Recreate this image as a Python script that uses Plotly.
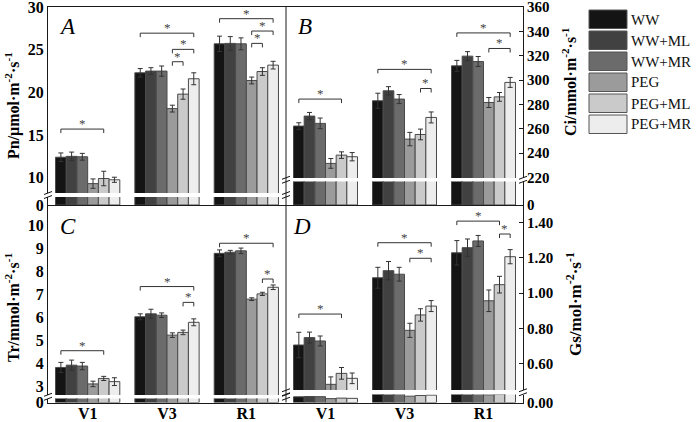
import plotly.graph_objects as go

W, H = 700, 422

stages = ["V1", "V3", "R1"]
treatments = ["WW", "WW+ML", "WW+MR", "PEG", "PEG+ML", "PEG+MR"]
colors = ["#141414", "#414141", "#6b6b6b", "#9b9b9b", "#cacaca", "#ededed"]

# Pn (umol m-2 s-1): rows = treatments, cols = V1, V3, R1
pn_mean = [[12.4, 22.3, 25.7], [12.5, 22.5, 25.75], [12.45, 22.5, 25.7],
           [9.3, 18.1, 21.4], [9.9, 19.8, 22.45], [9.75, 21.6, 23.2]]
pn_err = [[0.5, 0.5, 0.9], [0.5, 0.4, 0.8], [0.4, 0.6, 0.7],
          [0.55, 0.4, 0.4], [0.85, 0.6, 0.45], [0.3, 0.7, 0.45]]
# Ci (mmol m-2 s-1)
ci_mean = [[262.2, 283.0, 311.7], [270.4, 291.2, 319.7], [264.4, 284.4, 315.3],
           [231.5, 251.5, 281.6], [238.3, 255.3, 286.2], [237.0, 269.3, 298.1]]
ci_err = [[2.7, 6.2, 4.5], [3.0, 3.4, 3.7], [4.4, 3.7, 4.1],
          [4.0, 5.5, 4.1], [2.7, 4.4, 3.6], [3.4, 4.5, 4.1]]
# Tr (mmol m-2 s-1)
tr_mean = [[3.81, 6.02, 8.79], [3.91, 6.15, 8.84], [3.87, 6.09, 8.9],
           [3.09, 5.22, 6.79], [3.33, 5.34, 7.02], [3.19, 5.78, 7.31]]
tr_err = [[0.22, 0.13, 0.15], [0.22, 0.2, 0.08], [0.16, 0.1, 0.12],
          [0.12, 0.1, 0.06], [0.09, 0.1, 0.07], [0.17, 0.15, 0.1]]
# Gs (mol m-2 s-1)
gs_mean = [[0.707, 1.087, 1.228], [0.749, 1.127, 1.257], [0.730, 1.107, 1.295],
           [0.485, 0.79, 0.957], [0.547, 0.877, 1.048], [0.519, 0.927, 1.206]]
gs_err = [[0.072, 0.059, 0.069], [0.031, 0.052, 0.049], [0.028, 0.039, 0.031],
          [0.042, 0.04, 0.061], [0.033, 0.035, 0.047], [0.03, 0.031, 0.04]]

# significance brackets: (stage index, from treatment, to treatment, height)
pn_sig = [(0, 0, 4, 15.7), (1, 0, 5, 26.95), (1, 3, 5, 25.05), (1, 3, 4, 23.6),
          (2, 0, 5, 28.65), (2, 3, 5, 27.2), (2, 3, 4, 25.75)]
ci_sig = [(0, 0, 4, 284.4), (1, 0, 5, 308.8), (1, 4, 5, 293.1),
          (2, 0, 5, 338.8), (2, 3, 5, 326.0)]
tr_sig = [(0, 0, 4, 4.54), (1, 0, 5, 7.34), (1, 4, 5, 6.65),
          (2, 0, 5, 9.23), (2, 4, 5, 7.67)]
gs_sig = [(0, 0, 4, 0.882), (1, 0, 5, 1.285), (1, 3, 5, 1.197),
          (2, 0, 4, 1.407), (2, 4, 5, 1.334)]

pn_ticks = [10, 15, 20, 25, 30]
ci_ticks = [220, 240, 260, 280, 300, 320, 340, 360]
tr_ticks = [3, 4, 5, 6, 7, 8, 9, 10]
gs_ticks = [0.6, 0.8, 1.0, 1.2, 1.4]

SERIF = "Liberation Serif"
LINE = "#1a1a1a"
BARGAP = 0.19


def fx(px):
    return px / W


def fy(py):
    return 1 - py / H


panels = [
    dict(letter="A", mean=pn_mean, err=pn_err, sig=pn_sig, ticks=pn_ticks, fmt="",
         xpx=(48, 286), up=(7, 193), lo=(197, 205), rng=[8.2, 30.02], side="left",
         bottom=False, title="Pn/μmol·m<sup>-2</sup>·s<sup>-1</sup>", tx=12, ty=106,
         tsize=16, lx=67, ly=27, zero="0"),
    dict(letter="B", mean=ci_mean, err=ci_err, sig=ci_sig, ticks=ci_ticks, fmt="",
         xpx=(286, 523), up=(7, 178), lo=(181.5, 205), rng=[219.5, 360.1], side="right",
         bottom=False, title="Ci/mmol·m<sup>-2</sup>·s<sup>-1</sup>", tx=569, ty=82,
         tsize=16, lx=305, ly=27, zero="0"),
    dict(letter="C", mean=tr_mean, err=tr_err, sig=tr_sig, ticks=tr_ticks, fmt="",
         xpx=(48, 286), up=(205, 395), lo=(398.5, 402.5), rng=[2.607, 10.9], side="left",
         bottom=True, title="Tr/mmol·m<sup>-2</sup>·s<sup>-1</sup>", tx=12, ty=308,
         tsize=16, lx=68, ly=226, zero="0"),
    dict(letter="D", mean=gs_mean, err=gs_err, sig=gs_sig, ticks=gs_ticks, fmt=".2f",
         xpx=(286, 523), up=(205, 390), lo=(394.5, 402.5), rng=[0.453, 1.498], side="right",
         bottom=True, title="Gs/mol·m<sup>-2</sup>·s<sup>-1</sup>", tx=574, ty=304,
         tsize=17, lx=302, ly=226, zero="0.00"),
]

fig = go.Figure()
layout = dict(width=W, height=H, margin=dict(l=0, r=0, t=0, b=0, pad=0, autoexpand=False),
              paper_bgcolor="white", plot_bgcolor="white", barmode="group",
              bargap=BARGAP, bargroupgap=0, showlegend=False,
              font=dict(family=SERIF, color="#000"))
shapes = []
annotations = []

bw = (1 - BARGAP) / len(treatments)

for p, P in enumerate(panels):
    nu, nl = 2 * p + 1, 2 * p + 2
    xs = lambda n: "x" if n == 1 else f"x{n}"
    ys = lambda n: "y" if n == 1 else f"y{n}"
    xk = lambda n: "xaxis" if n == 1 else f"xaxis{n}"
    yk = lambda n: "yaxis" if n == 1 else f"yaxis{n}"
    xdom = [fx(P["xpx"][0]), fx(P["xpx"][1])]
    yfont = dict(family=SERIF, size=16 if P["side"] == "left" else 15, weight="bold")

    for t, name in enumerate(treatments):
        common = dict(x=stages, y=P["mean"][t], name=name,
                      marker=dict(color=colors[t], line=dict(color="#4a4a4a", width=1)))
        fig.add_trace(go.Bar(**common, xaxis=xs(nu), yaxis=ys(nu),
                             error_y=dict(type="data", array=P["err"][t], color="#333333",
                                          thickness=1, width=2.5)))
        fig.add_trace(go.Bar(**common, xaxis=xs(nl), yaxis=ys(nl)))

    top_line = not P["bottom"]
    layout[xk(nu)] = dict(domain=xdom, anchor=ys(nu), type="category",
                          categoryorder="array", categoryarray=stages, range=[-0.5, 2.5],
                          side="top", showline=top_line, linecolor=LINE, linewidth=1,
                          showticklabels=False, ticks="", showgrid=False, zeroline=False,
                          automargin=False)
    layout[yk(nu)] = dict(domain=[fy(P["up"][1]), fy(P["up"][0])], anchor=xs(nu),
                          range=P["rng"], side=P["side"], showline=True, linecolor=LINE,
                          linewidth=1, tickvals=P["ticks"], tickformat=P["fmt"],
                          ticks="inside" if P["side"] == "right" else "", ticklen=4,
                          tickcolor=LINE, showgrid=False, zeroline=False,
                          automargin=False, tickfont=yfont, ticklabeloverflow="allow")
    layout[xk(nl)] = dict(domain=xdom, anchor=ys(nl), type="category",
                          categoryorder="array", categoryarray=stages, range=[-0.5, 2.5],
                          showline=True, linecolor=LINE, linewidth=1,
                          showticklabels=P["bottom"], ticks="", showgrid=False,
                          zeroline=False, automargin=False, ticklabelstandoff=-4,
                          tickfont=dict(family=SERIF, size=16, weight="bold"))
    layout[yk(nl)] = dict(domain=[fy(P["lo"][1]), fy(P["lo"][0])], anchor=xs(nl),
                          range=[0, 1], side=P["side"], showline=True, linecolor=LINE,
                          linewidth=1, tickvals=[0], ticktext=[P["zero"]],
                          ticks="", showgrid=False, zeroline=False, automargin=False,
                          tickfont=yfont, ticklabeloverflow="allow")

    # significance brackets
    r0, r1 = P["rng"]
    leg = 4 * (r1 - r0) / (P["up"][1] - P["up"][0])
    for (s, i, j, yv) in P["sig"]:
        xa = s + (i - 2.5) * bw
        xb = s + (j - 2.5) * bw
        shapes.append(dict(type="path", xref=xs(nu), yref=ys(nu),
                           path=f"M {xa},{yv - leg} L {xa},{yv} L {xb},{yv} L {xb},{yv - leg}",
                           line=dict(color="#333333", width=1)))
        annotations.append(dict(x=(xa + xb) / 2, y=yv, xref=xs(nu), yref=ys(nu), text="*",
                                showarrow=False, xanchor="center", yanchor="bottom",
                                yshift=-4, font=dict(family=SERIF, size=13, color="#444")))

    # break marks on both vertical edges
    gy = (P["up"][1] + P["lo"][0]) / 2
    for ex in P["xpx"]:
        for d in (-2, 2):
            shapes.append(dict(type="line", xref="paper", yref="paper",
                               x0=fx(ex - 4), x1=fx(ex + 4),
                               y0=fy(gy + d + 1.5), y1=fy(gy + d - 1.5),
                               line=dict(color="#111", width=1)))

    # axis title
    annotations.append(dict(x=fx(P["tx"]), y=fy(P["ty"]), xref="paper", yref="paper",
                            text=P["title"], textangle=-90, showarrow=False,
                            xanchor="center", yanchor="middle",
                            font=dict(family=SERIF, size=P["tsize"], weight="bold")))
    # panel letter
    annotations.append(dict(x=fx(P["lx"]), y=fy(P["ly"]), xref="paper", yref="paper",
                            text=P["letter"], showarrow=False,
                            xanchor="center", yanchor="middle",
                            font=dict(family=SERIF, size=23, style="italic")))

# divider between left and right panels
shapes.append(dict(type="line", xref="paper", yref="paper", x0=fx(286), x1=fx(286),
                   y0=fy(7), y1=fy(402.5), line=dict(color=LINE, width=1)))

# legend
for t, name in enumerate(treatments):
    y0 = 10 + 21 * t
    shapes.append(dict(type="rect", xref="paper", yref="paper",
                       x0=fx(589), x1=fx(627), y0=fy(y0 + 18.5), y1=fy(y0),
                       fillcolor=colors[t], line=dict(color="#555", width=1)))
    annotations.append(dict(x=fx(629), y=fy(y0 + 9.5), xref="paper", yref="paper",
                            text=name, showarrow=False, xanchor="left", yanchor="middle",
                            font=dict(family=SERIF, size=15, color="#111")))

layout["shapes"] = shapes
layout["annotations"] = annotations
fig.update_layout(**layout)
fig.write_html("out.html", config={"displayModeBar": False},
               post_script="document.body.style.margin='0px';document.body.style.padding='0px';")
